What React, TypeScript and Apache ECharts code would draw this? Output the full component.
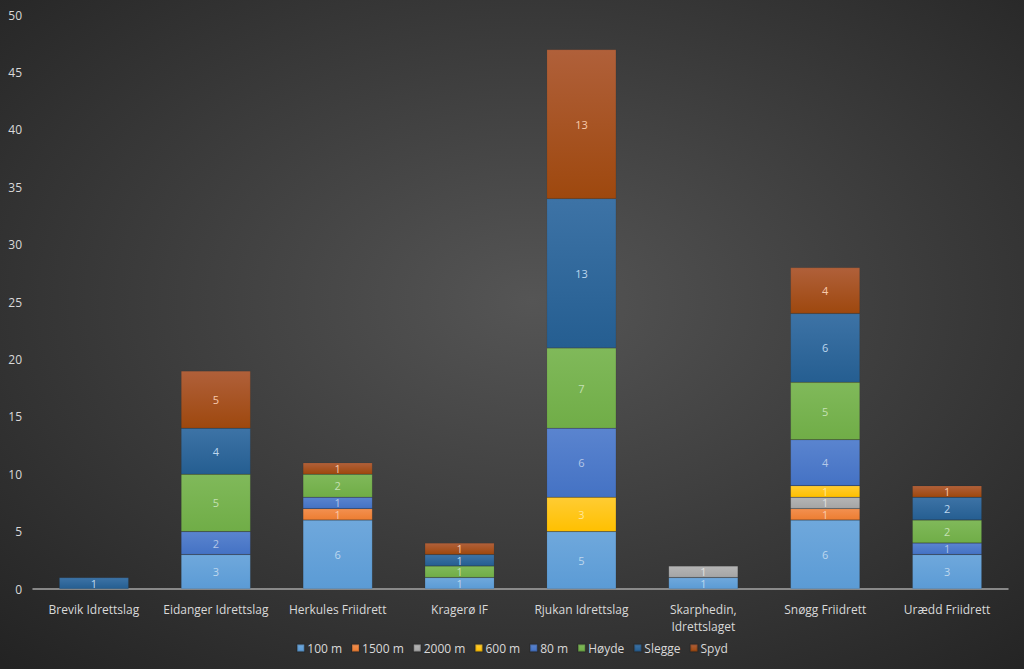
import React, { useEffect, useRef } from "react";
import * as echarts from "echarts";

const categories = [
  "Brevik Idrettslag",
  "Eidanger Idrettslag",
  "Herkules Friidrett",
  "Kragerø IF",
  "Rjukan Idrettslag",
  "Skarphedin, Idrettslaget",
  "Snøgg Friidrett",
  "Urædd Friidrett",
];

const seriesNames = ["100 m", "1500 m", "2000 m", "600 m", "80 m", "Høyde", "Slegge", "Spyd"];

const v100m = [null, 3, 6, 1, 5, 1, 6, 3];
const v1500m = [null, null, 1, null, null, null, 1, null];
const v2000m = [null, null, null, null, null, 1, 1, null];
const v600m = [null, null, null, null, 3, null, 1, null];
const v80m = [null, 2, 1, null, 6, null, 4, 1];
const vHoyde = [null, 5, 2, 1, 7, null, 5, 2];
const vSlegge = [1, 4, null, 1, 13, null, 6, 2];
const vSpyd = [null, 5, 1, 1, 13, null, 4, 1];

const seriesValues = [v100m, v1500m, v2000m, v600m, v80m, vHoyde, vSlegge, vSpyd];

const baseColors = ["#5B9BD5", "#ED7D31", "#A5A5A5", "#FFC000", "#4472C4", "#70AD47", "#255E91", "#9E480E"];
const topColors = ["#6FA8DC", "#F29050", "#B5B5B5", "#FFCC33", "#5A84CF", "#80B95A", "#3D73A6", "#B0603A"];
const labelColors = ["#BDD7EE", "#F8CBAD", "#E0E0E0", "#FFE699", "#B4C7E7", "#C5E0B4", "#BDD7EE", "#F8CBAD"];

export default function App() {
  const ref = useRef<HTMLDivElement>(null);
  useEffect(() => {
    if (!ref.current) return;
    const chart = echarts.init(ref.current, null, { renderer: "svg" });
    const font = "'Open Sans', 'Noto Sans', sans-serif";
    chart.setOption({
      animation: false,
      backgroundColor: new echarts.graphic.RadialGradient(0.52, 0.45, 0.75, [
        { offset: 0, color: "#555555" },
        { offset: 1, color: "#232323" },
      ]),
      textStyle: { fontFamily: font },
      grid: { left: 33, right: 16, top: 15, bottom: 80, containLabel: false },
      legend: {
        bottom: 10,
        left: "center",
        itemWidth: 7,
        itemHeight: 7,
        itemGap: 9,
        icon: "rect",
        textStyle: { color: "#D9D9D9", fontSize: 12, fontFamily: font, padding: [0, 0, 0, -2] },
        data: seriesNames,
      },
      xAxis: {
        type: "category",
        data: categories,
        axisLine: { lineStyle: { color: "#A6A6A6", width: 1.5 } },
        axisTick: { show: false },
        axisLabel: {
          color: "#D9D9D9",
          fontSize: 12,
          margin: 12,
          interval: 0,
          lineHeight: 17,
          formatter: (v: string) => v.replace(", ", ",\n"),
        },
      },
      yAxis: {
        type: "value",
        min: 0,
        max: 50,
        interval: 5,
        splitLine: { show: false },
        axisLine: { show: false },
        axisTick: { show: false },
        axisLabel: { color: "#D9D9D9", fontSize: 12, margin: 11 },
      },
      series: seriesNames.map((name, i) => ({
        name,
        type: "bar",
        stack: "total",
        barCategoryGap: "43%",
        data: seriesValues[i],
        itemStyle: {
          color: new echarts.graphic.LinearGradient(0, 0, 0, 1, [
            { offset: 0, color: topColors[i] },
            { offset: 1, color: baseColors[i] },
          ]),
          borderColor: "rgba(0,0,0,0.15)",
          borderWidth: 0.5,
        },
        label: {
          show: true,
          position: "inside",
          color: labelColors[i],
          fontSize: 11,
          lineHeight: 11,
          fontFamily: font,
        },
      })),
    });
    return () => chart.dispose();
  }, []);
  return <div ref={ref} style={{ width: 1024, height: 669, position: "absolute", left: 0, top: 0 }} />;
}
